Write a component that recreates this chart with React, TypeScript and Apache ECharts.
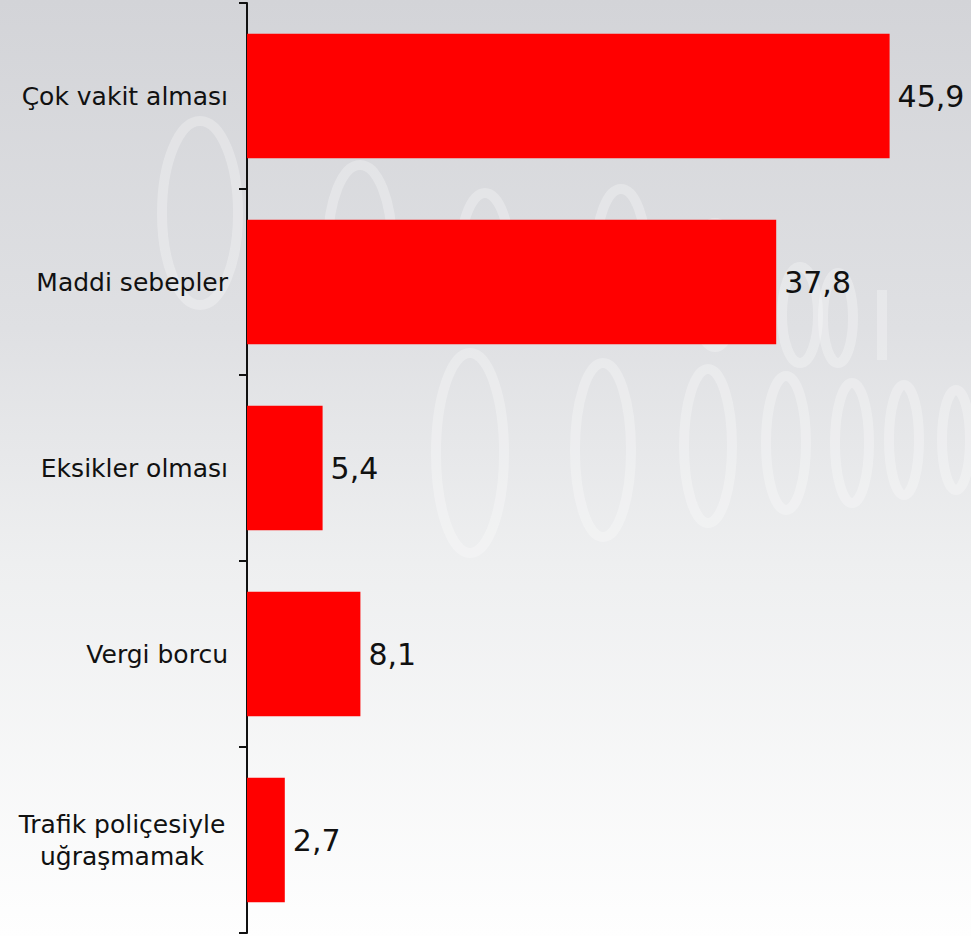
import React, { useEffect, useRef } from "react";
import * as echarts from "echarts";

const categories = [
  "Çok vakit alması",
  "Maddi sebepler",
  "Eksikler olması",
  "Vergi borcu",
  "Trafik poliçesiyle\nuğraşmamak",
];
const values = [45.9, 37.8, 5.4, 8.1, 2.7];

// decorative background "digits" (ellipses): [cx, cy, rx, ry]
const bgRings = [
  [200, 213, 38, 92],
  [360, 245, 32, 80],
  [485, 265, 26, 72],
  [621, 255, 25, 66],
  [715, 285, 22, 62],
  [800, 315, 18, 48],
  [838, 318, 15, 45],
  [470, 453, 34, 100],
  [603, 450, 28, 87],
  [708, 446, 24, 77],
  [786, 443, 20, 67],
  [852, 443, 17, 60],
  [904, 440, 15, 55],
  [956, 440, 14, 50],
];

export default function App() {
  const ref = useRef<HTMLDivElement>(null);
  useEffect(() => {
    if (!ref.current) return;
    const chart = echarts.init(ref.current, null, { renderer: "svg" });
    const graphic: any[] = bgRings.map((r) => ({
      type: "ellipse",
      silent: true,
      z: -10,
      shape: { cx: r[0], cy: r[1], rx: r[2], ry: r[3] },
      style: { fill: "none", stroke: "rgba(255,255,255,0.28)", lineWidth: 10 },
    }));
    graphic.push({
      type: "line",
      silent: true,
      z: -10,
      shape: { x1: 882, y1: 290, x2: 882, y2: 360 },
      style: { stroke: "rgba(255,255,255,0.28)", lineWidth: 10 },
    });
    chart.setOption({
      animation: false,
      backgroundColor: {
        type: "linear",
        x: 0,
        y: 0,
        x2: 0,
        y2: 1,
        colorStops: [
          { offset: 0, color: "#d3d4d8" },
          { offset: 0.35, color: "#dfe0e3" },
          { offset: 0.6, color: "#eeeff0" },
          { offset: 1, color: "#fefefe" },
        ],
      },
      graphic,
      grid: { left: 247, right: 24, top: 3, bottom: 3, containLabel: false },
      xAxis: {
        type: "value",
        min: 0,
        max: 50,
        show: false,
      },
      yAxis: {
        type: "category",
        inverse: true,
        data: categories,
        axisLine: { show: true, lineStyle: { color: "#111", width: 2 } },
        axisTick: { show: true, length: 8, inside: false, lineStyle: { color: "#111", width: 2 } },
        splitLine: { show: false },
        axisLabel: {
          margin: 19,
          fontSize: 25,
          fontFamily: "DejaVu Sans",
          color: "#111",
          align: "right",
          formatter: (v: string) => {
            if (v.indexOf("\n") >= 0) {
              return v
                .split("\n")
                .map((s) => "{c|" + s + "}")
                .join("\n");
            }
            return v;
          },
          rich: {
            c: {
              width: 212,
              align: "center",
              fontSize: 25,
              fontFamily: "DejaVu Sans",
              color: "#111",
              lineHeight: 32,
            },
          },
        },
      },
      series: [
        {
          type: "bar",
          data: values,
          barCategoryGap: "33%",
          itemStyle: { color: "#ff0000" },
          label: {
            show: true,
            position: "right",
            distance: 8,
            fontSize: 30,
            fontFamily: "DejaVu Sans",
            color: "#111",
            formatter: (p: any) => String(p.value).replace(".", ","),
          },
        },
      ],
    });
    return () => chart.dispose();
  }, []);
  return (
    <div
      ref={ref}
      style={{ position: "fixed", left: 0, top: 0, width: 971, height: 936 }}
    />
  );
}
